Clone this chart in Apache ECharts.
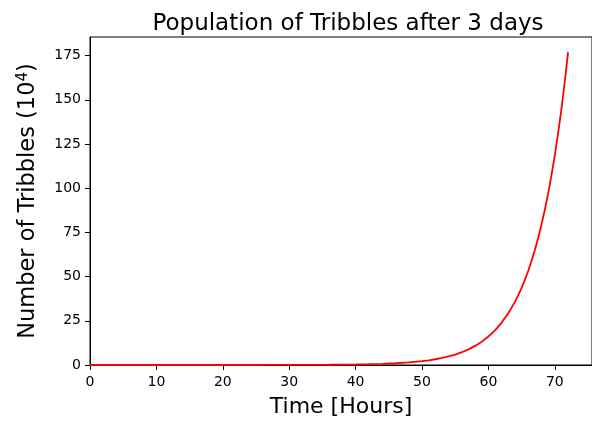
<!DOCTYPE html>
<html>
<head>
<meta charset="utf-8">
<script src="https://cdn.jsdelivr.net/npm/echarts@6/dist/echarts.min.js"></script>
<style>
html,body{margin:0;padding:0;background:#fff;}
#c{width:592px;height:423px;}
</style>
</head>
<body>
<div id="c"></div>
<script>
// Data
var hours = [0,4,8,12,16,20,24,28,32,36,40,42,44,46,48,50,51,52,53,54,55,56,57,58,59,60,61,62,63,64,64.5,65,65.5,66,66.5,67,67.5,68,68.5,69,69.5,70,70.5,71,71.5,72];
var population = [0.0001,0.0002,0.0005,0.0011,0.0024,0.0054,0.012,0.027,0.060,0.13,0.29,0.44,0.66,0.98,1.46,2.18,2.66,3.25,3.97,4.85,5.92,7.23,8.83,10.8,13.2,16.1,19.6,24.0,29.3,35.7,39.5,43.6,48.3,53.3,58.9,65.1,72.0,79.5,87.9,97.1,107.4,118.6,131.2,144.8,160.2,177.0];
var xTicks = [0,10,20,30,40,50,60,70];
var yTicks = [0,25,50,75,100,125,150,175];

var font = 'DejaVu Sans';
var chart = echarts.init(document.getElementById('c'), null, {renderer:'canvas'});
var data = hours.map(function(h,i){return [h, population[i]];});
chart.setOption({
  animation:false,
  backgroundColor:'#fff',
  title:{
    text:'Population of Tribbles after 3 days',
    left:343, textAlign:'center', top:8,
    textStyle:{fontFamily:font, fontSize:23, fontWeight:'normal', color:'#000'}
  },
  grid:{left:90, right:-4, top:37, bottom:56, show:true, borderColor:'#000', borderWidth:1, backgroundColor:'transparent'},
  xAxis:{
    type:'value', min:0, max:75.6,
    name:'Time [Hours]', nameLocation:'middle', nameGap:31,
    nameTextStyle:{fontFamily:font, fontSize:22, color:'#000'},
    splitLine:{show:false},
    axisLine:{lineStyle:{color:'#000', width:1}},
    axisTick:{show:true, length:5, lineStyle:{color:'#000'}, customValues:xTicks},
    axisLabel:{fontFamily:font, fontSize:14, color:'#000', margin:10, customValues:xTicks}
  },
  yAxis:{
    type:'value', min:0, max:185.5,
    name:'Number of Tribbles (10{sup|4})', nameLocation:'middle', nameGap:50, nameRotate:90,
    nameTextStyle:{fontFamily:font, fontSize:22.5, color:'#000',
      rich:{sup:{fontFamily:font, fontSize:15, color:'#000', verticalAlign:'top', padding:[0,0,9,0]}}},
    splitLine:{show:false},
    axisLine:{show:true, lineStyle:{color:'#000', width:1}},
    axisTick:{show:true, length:5, lineStyle:{color:'#000'}, customValues:yTicks},
    axisLabel:{fontFamily:font, fontSize:14, color:'#000', margin:9, customValues:yTicks}
  },
  series:[{
    type:'line', data:data, showSymbol:false, smooth:false,
    lineStyle:{color:'#ff0000', width:1.8}, clip:true
  }]
});
</script>
</body>
</html>
